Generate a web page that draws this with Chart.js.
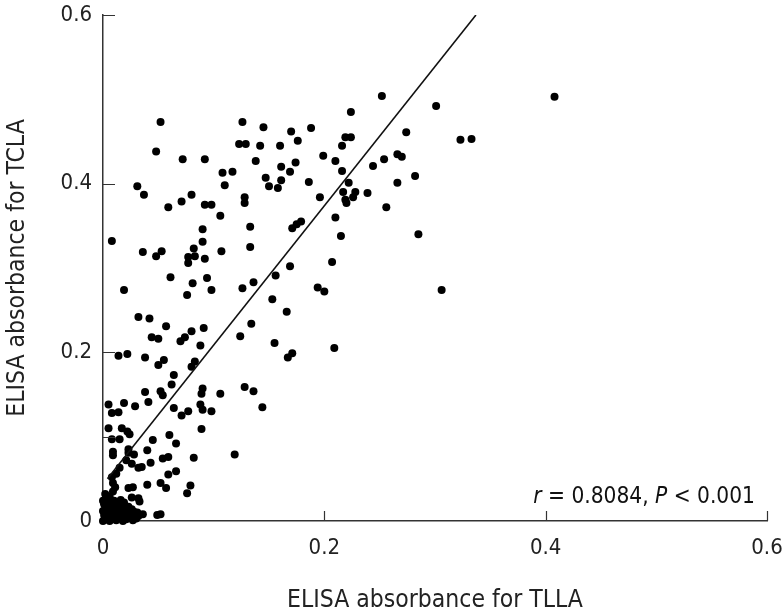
<!DOCTYPE html>
<html>
<head>
<meta charset="utf-8">
<script src="https://cdn.jsdelivr.net/npm/chart.js@4/dist/chart.umd.min.js"></script>
<style>
  html, body { margin: 0; padding: 0; background: #fff; }
  #wrap { width: 783px; height: 615px; }
</style>
</head>
<body>
<div id="wrap"><canvas id="myChart" width="783" height="615"></canvas></div>
<script>
// ELISA absorbance: TLLA (x) vs TCLA (y)
// upper part of the cloud
const upperPoints = [
  [0.052,0.473],[0.126,0.473],[0.145,0.467],[0.170,0.462],[0.048,0.438],[0.072,0.429],[0.092,0.429],
  [0.123,0.447],[0.129,0.447],[0.142,0.445],[0.160,0.445],[0.176,0.451],[0.138,0.427],[0.161,0.420],
  [0.174,0.425],[0.169,0.414],[0.108,0.413],[0.117,0.414],[0.147,0.407],[0.161,0.404],[0.110,0.398],
  [0.150,0.397],[0.158,0.395],[0.031,0.397],[0.037,0.387],[0.128,0.384],[0.128,0.377],[0.059,0.372],
  [0.071,0.379],[0.080,0.387],[0.092,0.375],[0.098,0.375],[0.106,0.362],[0.133,0.349],[0.090,0.346],
  [0.171,0.347],[0.252,0.504],[0.301,0.492],[0.224,0.485],[0.188,0.466],[0.219,0.455],[0.224,0.455],
  [0.216,0.445],[0.274,0.461],[0.199,0.433],[0.210,0.427],[0.216,0.415],[0.254,0.429],[0.266,0.435],
  [0.270,0.432],[0.244,0.421],[0.282,0.409],[0.266,0.401],[0.186,0.402],[0.222,0.401],[0.217,0.390],
  [0.228,0.390],[0.226,0.384],[0.219,0.381],[0.220,0.377],[0.239,0.389],[0.196,0.384],[0.256,0.372],
  [0.210,0.360],[0.175,0.352],[0.179,0.355],[0.408,0.503],[0.323,0.452],[0.333,0.453]
];

// middle band
const midPoints = [
  [0.215,0.338],[0.285,0.340],[0.092,0.311],[0.207,0.307],[0.169,0.302],[0.156,0.291],[0.094,0.288],
  [0.098,0.274],[0.126,0.276],[0.136,0.283],[0.194,0.277],[0.200,0.272],[0.306,0.274],[0.153,0.263],
  [0.166,0.248],[0.091,0.229],[0.134,0.234],[0.124,0.219],[0.155,0.211],[0.209,0.205],[0.167,0.194],
  [0.171,0.199],[0.088,0.208],[0.090,0.331],[0.133,0.325],[0.107,0.320],[0.008,0.332],[0.036,0.319],
  [0.048,0.314],[0.053,0.320],[0.082,0.323],[0.077,0.313],[0.083,0.314],[0.077,0.306],[0.061,0.289],
  [0.081,0.282],[0.019,0.274],[0.076,0.268],[0.032,0.242],[0.042,0.240],[0.057,0.231],[0.044,0.218],
  [0.050,0.216],[0.070,0.213],[0.074,0.218],[0.080,0.225],[0.014,0.196],[0.022,0.198],[0.038,0.194],
  [0.050,0.185],[0.055,0.191],[0.083,0.189],[0.080,0.183]
];

// lower part
const lowPoints = [
  [0.064,0.173],[0.062,0.162],[0.038,0.153],[0.052,0.154],[0.054,0.149],[0.041,0.141],[0.019,0.140],
  [0.029,0.136],[0.005,0.138],[0.008,0.128],[0.014,0.129],[0.005,0.110],[0.017,0.110],[0.022,0.106],
  [0.024,0.103],[0.008,0.097],[0.015,0.097],[0.009,0.082],[0.009,0.078],[0.023,0.085],[0.023,0.081],
  [0.028,0.079],[0.015,0.063],[0.021,0.072],[0.026,0.068],[0.012,0.056],[0.008,0.052],[0.009,0.045],
  [0.011,0.040],[0.032,0.063],[0.035,0.064],[0.040,0.084],[0.045,0.096],[0.043,0.069],[0.054,0.074],
  [0.059,0.076],[0.060,0.102],[0.066,0.092],[0.064,0.134],[0.071,0.125],[0.077,0.130],[0.088,0.138],
  [0.090,0.132],[0.098,0.130],[0.089,0.151],[0.090,0.157],[0.106,0.151],[0.128,0.159],[0.136,0.154],
  [0.144,0.135],[0.089,0.109],[0.082,0.075],[0.119,0.079],[0.059,0.055],[0.066,0.059],[0.052,0.045],
  [0.057,0.039],[0.040,0.043],[0.076,0.033],[0.079,0.042],[0.023,0.039],[0.027,0.040],[0.026,0.028],
  [0.032,0.027],[0.033,0.023],[0.049,0.007],[0.052,0.008],[0.036,0.008]
];

// dense cluster near the origin
const originCluster = [
  [0.000,0.000],[0.003,0.002],[0.006,0.000],[0.009,0.003],[0.012,0.001],[0.015,0.004],[0.018,0.000],
  [0.021,0.002],[0.024,0.005],[0.027,0.001],[0.030,0.003],[0.032,0.006],[0.001,0.007],[0.004,0.009],
  [0.007,0.006],[0.010,0.010],[0.013,0.007],[0.016,0.011],[0.019,0.008],[0.022,0.012],[0.025,0.009],
  [0.028,0.011],[0.031,0.010],[0.002,0.014],[0.005,0.016],[0.008,0.013],[0.011,0.017],[0.014,0.015],
  [0.017,0.018],[0.020,0.015],[0.023,0.017],[0.026,0.014],[0.001,0.020],[0.004,0.023],[0.007,0.021],
  [0.010,0.024],[0.013,0.022],[0.016,0.025],[0.003,0.027],[0.006,0.029],[0.000,0.012],[0.000,0.024],
  [0.002,0.032],[0.019,0.022],[0.009,0.035]
];

// regression line
const lineX = [0.004, 0.337];
const lineY = [0.050, 0.600];

const xTickValues = [0, 0.2, 0.4, 0.6];
const yTickValues = [0, 0.1, 0.2, 0.4, 0.6];
const yTickLabelled = [0, 0.2, 0.4, 0.6];

const FONT = '"DejaVu Sans Condensed", "Liberation Sans Narrow", sans-serif';

const allPoints = upperPoints.concat(midPoints, lowPoints, originCluster)
  .map(p => ({ x: p[0], y: p[1] }));
const linePoints = lineX.map((v, i) => ({ x: v, y: lineY[i] }));

function fmt(v) {
  return v === 0 ? '0' : v.toFixed(1);
}

// tick marks pointing into the plot + the r / P note
const innerTicks = {
  id: 'innerTicks',
  afterDraw(chart) {
    const ctx = chart.ctx;
    const xs = chart.scales.x, ys = chart.scales.y;
    ctx.save();
    ctx.strokeStyle = '#333';
    ctx.lineWidth = 1.2;
    ctx.beginPath();
    xTickValues.forEach(v => {
      if (v === 0) return;
      const px = Math.round(xs.getPixelForValue(v)) + 0.5;
      ctx.moveTo(px, ys.bottom);
      ctx.lineTo(px, ys.bottom - 10);
    });
    yTickValues.forEach(v => {
      if (v === 0) return;
      const py = Math.round(ys.getPixelForValue(v)) + 0.5;
      ctx.moveTo(xs.left, py);
      ctx.lineTo(xs.left + 12, py);
    });
    ctx.stroke();

    // r = 0.8084, P < 0.001
    const parts = [
      { t: 'r', it: true }, { t: ' = 0.8084, ', it: false },
      { t: 'P', it: true }, { t: ' < 0.001', it: false }
    ];
    const size = 22.5;
    let total = 0;
    parts.forEach(p => {
      ctx.font = (p.it ? 'italic ' : '') + size + 'px ' + FONT;
      p.w = ctx.measureText(p.t).width;
      total += p.w;
    });
    let x = 755 - total;
    ctx.fillStyle = '#111';
    ctx.textBaseline = 'alphabetic';
    ctx.textAlign = 'left';
    parts.forEach(p => {
      ctx.font = (p.it ? 'italic ' : '') + size + 'px ' + FONT;
      ctx.fillText(p.t, x, 503);
      x += p.w;
    });
    ctx.restore();
  }
};

new Chart(document.getElementById('myChart'), {
  type: 'scatter',
  data: {
    datasets: [
      {
        label: 'regression',
        data: linePoints,
        showLine: true,
        borderColor: '#111',
        borderWidth: 1.6,
        pointRadius: 0,
        fill: false
      },
      {
        label: 'samples',
        data: allPoints,
        backgroundColor: '#000',
        borderColor: '#000',
        borderWidth: 0,
        pointRadius: 4,
        clip: false
      }
    ]
  },
  options: {
    responsive: false,
    devicePixelRatio: 1,
    animation: false,
    layout: { padding: { top: 15, right: 16, left: 0, bottom: 0 } },
    plugins: { legend: { display: false }, tooltip: { enabled: false } },
    scales: {
      x: {
        type: 'linear',
        min: 0,
        max: 0.6,
        afterBuildTicks: s => { s.ticks = xTickValues.map(v => ({ value: v })); },
        afterFit: s => {
          s.height = 94;
          s.paddingLeft = 0; s.paddingRight = 0;
        },
        grid: { display: false, drawTicks: false },
        border: { display: true, color: '#333', width: 1.5 },
        ticks: {
          color: '#222',
          padding: 14,
          font: { family: FONT, size: 22 },
          callback: v => fmt(v)
        },
        title: {
          display: true,
          text: 'ELISA absorbance for TLLA',
          color: '#222',
          font: { family: FONT, size: 24.5 },
          padding: { top: 0, bottom: 0 }
        }
      },
      y: {
        type: 'linear',
        min: 0,
        max: 0.6,
        afterBuildTicks: s => { s.ticks = yTickLabelled.map(v => ({ value: v })); },
        afterFit: s => {
          s.width = 103;
          s.paddingTop = 0; s.paddingBottom = 0;
        },
        grid: { display: false, drawTicks: false },
        border: { display: true, color: '#333', width: 1.5 },
        ticks: {
          color: '#222',
          padding: 11,
          font: { family: FONT, size: 22 },
          callback: v => fmt(v)
        },
        title: {
          display: true,
          text: 'ELISA absorbance for TCLA',
          color: '#222',
          font: { family: FONT, size: 24.5 },
          padding: { top: 3, bottom: 0 }
        }
      }
    }
  },
  plugins: [innerTicks]
});
</script>
</body>
</html>
